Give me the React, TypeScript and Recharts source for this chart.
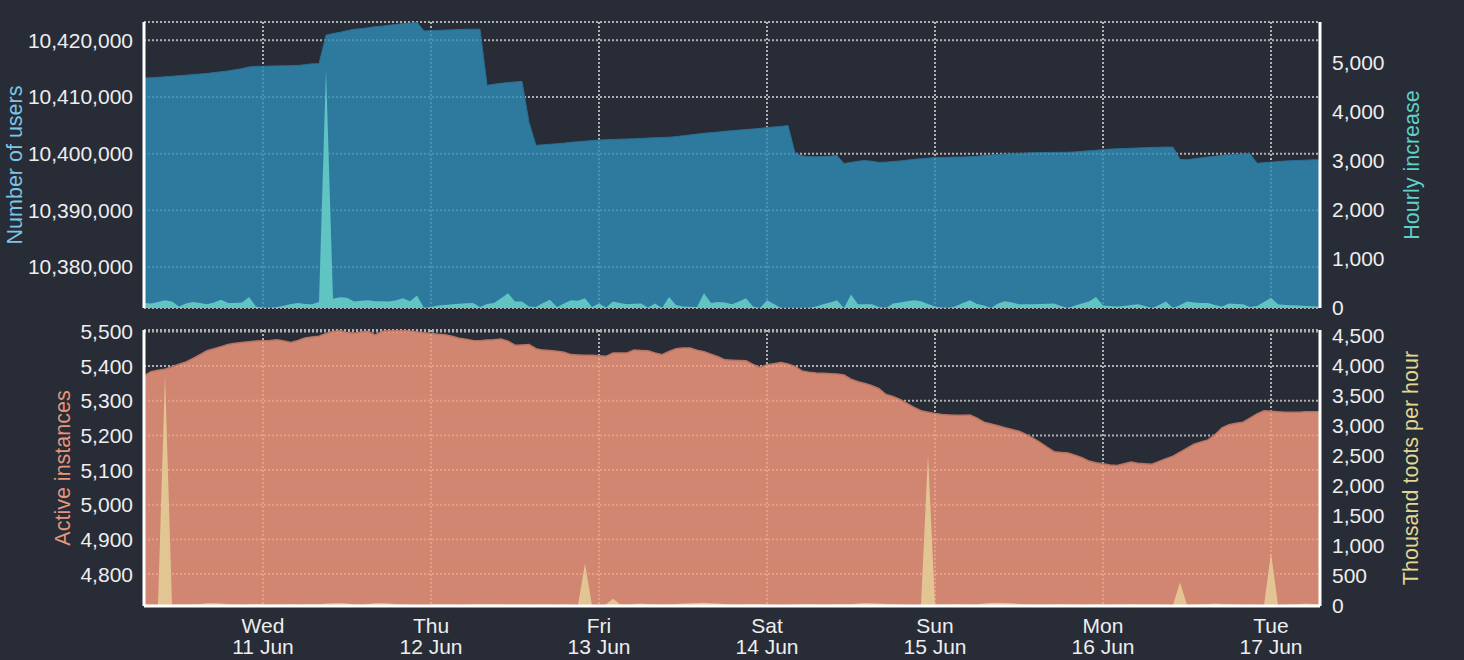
import React from 'react';
import { ComposedChart, Area, XAxis, YAxis, CartesianGrid } from 'recharts';

// hours counted from Wed 11 Jun 00:00, one sample per hour
const START_HOUR = -17;

const users = [
  10413330, 10413400, 10413480, 10413560, 10413650, 10413750, 10413850, 10413950, 10414050, 10414150,
  10414300, 10414450, 10414600, 10414800, 10415000, 10415300, 10415400, 10415420, 10415450, 10415480,
  10415500, 10415520, 10415560, 10415700, 10415850, 10415870, 10420900, 10421200, 10421400, 10421700,
  10421950, 10422050, 10422200, 10422400, 10422500, 10422650, 10422800, 10422950, 10423000, 10423150,
  10421650, 10421700, 10421750, 10421800, 10421850, 10421900, 10421950, 10421950, 10421950, 10412050,
  10412250, 10412400, 10412550, 10412650, 10412740, 10405500, 10401450, 10401550, 10401650, 10401750,
  10401850, 10402000, 10402100, 10402200, 10402300, 10402400, 10402450, 10402500, 10402550, 10402580,
  10402620, 10402680, 10402750, 10402800, 10402850, 10402900, 10403000, 10403150, 10403300, 10403450,
  10403600, 10403700, 10403800, 10403950, 10404050, 10404150, 10404250, 10404350, 10404450, 10404600,
  10404700, 10404800, 10404950, 10400100, 10399600, 10399450, 10399450, 10399500, 10399550, 10399650,
  10398250, 10398450, 10398650, 10398780, 10398650, 10398450, 10398500, 10398600, 10398700, 10398850,
  10399000, 10399100, 10399200, 10399300, 10399300, 10399350, 10399400, 10399400, 10399450, 10399550,
  10399650, 10399750, 10399850, 10399920, 10399980, 10400050, 10400100, 10400150, 10400180, 10400200,
  10400220, 10400230, 10400240, 10400300, 10400400, 10400500, 10400600, 10400700, 10400800, 10400850,
  10400900, 10400950, 10401000, 10401050, 10401100, 10401120, 10401150, 10401150, 10399000, 10398900,
  10399100, 10399250, 10399400, 10399550, 10399700, 10399800, 10399900, 10399950, 10400000, 10398300,
  10398400, 10398500, 10398600, 10398700, 10398750, 10398800, 10398850, 10398900, 10398900,
];

const hourlyIncrease = [
  100, 90, 120, 160, 130, 30, 90, 120, 100, 75,
  110, 170, 100, 100, 110, 225, 30, 5, 0, 20,
  45, 80, 100, 80, 75, 120, 4860, 190, 220, 210,
  130, 150, 160, 140, 140, 130, 160, 200, 140, 255,
  0, 20, 50, 60, 75, 85, 95, 100, 20, 80,
  100, 200, 300, 130, 130, 30, 20, 100, 170, 20,
  90, 160, 150, 200, 20, 90, 10, 130, 100, 75,
  85, 90, 10, 90, 0, 225, 60, 30, 25, 20,
  300, 100, 120, 110, 75, 130, 200, 30, 0, 160,
  80, 0, 0, 0, 0, 0, 30, 75, 110, 160,
  0, 275, 75, 75, 75, 20, 0, 90, 110, 140,
  160, 140, 80, 30, 10, 0, 40, 100, 160, 80,
  50, 0, 90, 140, 110, 75, 75, 75, 80, 85,
  90, 40, 0, 50, 90, 130, 225, 50, 40, 30,
  40, 60, 75, 40, 0, 60, 130, 0, 60, 130,
  110, 100, 100, 60, 30, 90, 80, 75, 20, 40,
  120, 210, 75, 60, 55, 50, 40, 35, 30,
];

const activeInstances = [
  5372, 5384, 5388, 5391, 5398, 5405, 5412, 5422, 5433, 5444,
  5450, 5456, 5462, 5466, 5468, 5470, 5472, 5473, 5474, 5476,
  5472, 5468, 5474, 5481, 5484, 5486, 5494, 5500, 5502, 5497,
  5495, 5498, 5500, 5490, 5500, 5502, 5502, 5502, 5501, 5498,
  5496, 5494, 5492, 5490, 5486, 5480, 5477, 5474, 5473, 5475,
  5476, 5478, 5472, 5460, 5461, 5462, 5450, 5446, 5445, 5443,
  5440, 5433, 5432, 5431, 5431, 5430, 5428, 5438, 5438, 5438,
  5446, 5445, 5444, 5438, 5433, 5442, 5450, 5452, 5452, 5446,
  5441, 5434, 5427, 5418, 5417, 5416, 5415, 5405, 5396, 5404,
  5407, 5410, 5406, 5399, 5386, 5382, 5380, 5379, 5378, 5377,
  5374, 5362, 5355, 5350, 5343, 5335, 5318, 5312, 5304, 5292,
  5281, 5271, 5267, 5263, 5260, 5259, 5258, 5258, 5259, 5250,
  5238, 5233, 5228, 5222, 5217, 5212, 5203, 5192, 5180, 5166,
  5153, 5151, 5149, 5143, 5136, 5126, 5121, 5118, 5115, 5113,
  5118, 5123, 5120, 5118, 5117, 5125, 5133, 5140, 5152, 5163,
  5175, 5181, 5187, 5202, 5222, 5231, 5235, 5238, 5250, 5262,
  5271, 5270, 5268, 5267, 5267, 5267, 5268, 5268, 5268,
];

const tootsPerHour = [
  25, 25, 20, 3850, 25, 25, 25, 30, 35, 45,
  50, 40, 30, 25, 20, 30, 35, 30, 20, 25,
  30, 35, 25, 30, 35, 30, 40, 45, 50, 40,
  30, 25, 35, 45, 50, 40, 30, 25, 20, 15,
  10, 20, 25, 30, 25, 20, 25, 30, 35, 30,
  35, 30, 25, 30, 25, 20, 25, 30, 25, 20,
  25, 20, 15, 705, 10, 5, 30, 120, 30, 25,
  35, 40, 35, 30, 25, 30, 35, 40, 45, 50,
  55, 45, 40, 35, 30, 25, 30, 35, 30, 25,
  20, 15, 20, 25, 30, 35, 30, 25, 30, 35,
  30, 35, 40, 50, 45, 40, 35, 30, 25, 20,
  15, 20, 2520, 20, 25, 30, 35, 30, 25, 30,
  40, 50, 55, 50, 45, 35, 30, 25, 20, 25,
  30, 35, 30, 25, 20, 25, 30, 25, 20, 25,
  30, 35, 30, 25, 30, 25, 20, 15, 390, 20,
  25, 30, 35, 40, 35, 30, 25, 20, 25, 20,
  15, 880, 15, 20, 30, 35, 40, 35, 30,
];

const dayTicks = [0, 24, 48, 72, 96, 120, 144];
const dayNames = ['Wed', 'Thu', 'Fri', 'Sat', 'Sun', 'Mon', 'Tue'];
const dayDates = ['11 Jun', '12 Jun', '13 Jun', '14 Jun', '15 Jun', '16 Jun', '17 Jun'];

const usersTicks = [10380000, 10390000, 10400000, 10410000, 10420000];
const increaseTicks = [0, 1000, 2000, 3000, 4000, 5000];
const instancesTicks = [4800, 4900, 5000, 5100, 5200, 5300, 5400, 5500];
const tootsTicks = [0, 500, 1000, 1500, 2000, 2500, 3000, 3500, 4000, 4500];

const BG = '#282c37';
const FONT = '"Liberation Sans", Arial, sans-serif';
const TICK = { fill: '#eeeeee', fontSize: 21, fontFamily: FONT };
const BORDER = { stroke: '#ffffff', strokeWidth: 3 };
const X_DOMAIN = [START_HOUR, START_HOUR + users.length - 1];

const topData = users.map((u, i) => ({
  hour: START_HOUR + i,
  users: u,
  increase: hourlyIncrease[i],
}));

const bottomData = activeInstances.map((a, i) => ({
  hour: START_HOUR + i,
  instances: a,
  toots: tootsPerHour[i],
}));

const fmt = (v: number) => v.toLocaleString('en-US');

// rotated axis title placed dx pixels from the axis box's left edge
const axisTitle = (text: string, color: string, dx: number) => (props: any) => {
  const vb = props.viewBox;
  const cx = vb.x + dx;
  const cy = vb.y + vb.height / 2;
  return (
    <text
      x={cx}
      y={cy}
      transform={`rotate(-90, ${cx}, ${cy})`}
      textAnchor="middle"
      dominantBaseline="central"
      fill={color}
      fontSize={21.5}
      fontFamily={FONT}
    >
      {text}
    </text>
  );
};

const DayTick = (props: any) => {
  const { x, y, payload } = props;
  const idx = dayTicks.indexOf(payload.value);
  return (
    <text x={x} textAnchor="middle" fill="#eeeeee" fontSize={21} fontFamily={FONT}>
      <tspan x={x} y={y + 27}>{dayNames[idx]}</tspan>
      <tspan x={x} y={y + 48}>{dayDates[idx]}</tspan>
    </text>
  );
};

// keeps the day ticks (and their grid lines) without drawing labels
const NoTick = () => <g />;

const gridProps = {
  stroke: '#b0b0b0',
  strokeWidth: 2,
  strokeDasharray: '2 2',
};

export default function App() {
  return (
    <div style={{ position: 'absolute', left: 0, top: 0, width: 1464, height: 660, background: BG, overflow: 'hidden' }}>
      <div style={{ position: 'absolute', left: 0, top: 310 }}>
        <ComposedChart width={1464} height={350} data={bottomData} margin={{ top: 20, right: 0, bottom: 0, left: 0 }}>
          <CartesianGrid yAxisId="left" {...gridProps} />
          <Area
            yAxisId="left"
            dataKey="instances"
            type="linear"
            fill="#f59a7d"
            fillOpacity={0.82}
            stroke="#b97563"
            strokeWidth={1.5}
            dot={false}
            activeDot={false}
            isAnimationActive={false}
          />
          <Area
            yAxisId="right"
            dataKey="toots"
            type="linear"
            fill="#e2c592"
            fillOpacity={1}
            stroke="none"
            dot={false}
            activeDot={false}
            isAnimationActive={false}
          />
          <XAxis
            dataKey="hour"
            type="number"
            domain={X_DOMAIN}
            ticks={dayTicks}
            interval={0}
            allowDataOverflow
            height={54}
            tick={<DayTick />}
            tickLine={false}
            tickSize={0}
            tickMargin={0}
            axisLine={BORDER}
          />
          <XAxis
            xAxisId="top"
            orientation="top"
            dataKey="hour"
            type="number"
            domain={X_DOMAIN}
            allowDataOverflow
            height={0}
            tick={false}
            tickLine={false}
            axisLine={BORDER}
          />
          <YAxis
            yAxisId="left"
            type="number"
            width={144}
            domain={[4708, 5504]}
            allowDataOverflow
            ticks={instancesTicks}
            interval={0}
            tickFormatter={fmt}
            tick={TICK}
            tickLine={false}
            tickSize={0}
            tickMargin={11}
            axisLine={BORDER}
            label={axisTitle('Active instances', '#e6967a', 63)}
          />
          <YAxis
            yAxisId="right"
            orientation="right"
            type="number"
            width={144}
            domain={[0, 4590]}
            allowDataOverflow
            ticks={tootsTicks}
            interval={0}
            tickFormatter={fmt}
            tick={{ ...TICK, textAnchor: 'start' }}
            tickLine={false}
            tickSize={0}
            tickMargin={12}
            axisLine={BORDER}
            label={axisTitle('Thousand toots per hour', '#e2d890', 91)}
          />
        </ComposedChart>
      </div>
      <div style={{ position: 'absolute', left: 0, top: 0 }}>
        <ComposedChart width={1464} height={326} data={topData} margin={{ top: 22, right: 0, bottom: 18, left: 0 }}>
          <CartesianGrid yAxisId="left" {...gridProps} />
          <Area
            yAxisId="left"
            dataKey="users"
            type="linear"
            fill="#308bb6"
            fillOpacity={0.82}
            stroke="#2a6f94"
            strokeWidth={1}
            dot={false}
            activeDot={false}
            isAnimationActive={false}
          />
          <Area
            yAxisId="right"
            dataKey="increase"
            type="linear"
            fill="#5fc4c2"
            fillOpacity={1}
            stroke="none"
            dot={false}
            activeDot={false}
            isAnimationActive={false}
          />
          <XAxis
            dataKey="hour"
            type="number"
            domain={X_DOMAIN}
            ticks={dayTicks}
            interval={0}
            allowDataOverflow
            height={0}
            tick={<NoTick />}
            tickLine={false}
            tickSize={0}
            axisLine={BORDER}
          />
          <XAxis
            xAxisId="top"
            orientation="top"
            dataKey="hour"
            type="number"
            domain={X_DOMAIN}
            allowDataOverflow
            height={0}
            tick={false}
            tickLine={false}
            axisLine={BORDER}
          />
          <YAxis
            yAxisId="left"
            type="number"
            width={144}
            domain={[10372760, 10423230]}
            allowDataOverflow
            ticks={usersTicks}
            interval={0}
            tickFormatter={fmt}
            tick={TICK}
            tickLine={false}
            tickSize={0}
            tickMargin={11}
            axisLine={BORDER}
            label={axisTitle('Number of users', '#7cc6e6', 15)}
          />
          <YAxis
            yAxisId="right"
            orientation="right"
            type="number"
            width={144}
            domain={[0, 5830]}
            allowDataOverflow
            ticks={increaseTicks}
            interval={0}
            tickFormatter={fmt}
            tick={{ ...TICK, textAnchor: 'start' }}
            tickLine={false}
            tickSize={0}
            tickMargin={12}
            axisLine={BORDER}
            label={axisTitle('Hourly increase', '#5ed2c6', 92)}
          />
        </ComposedChart>
      </div>
    </div>
  );
}
